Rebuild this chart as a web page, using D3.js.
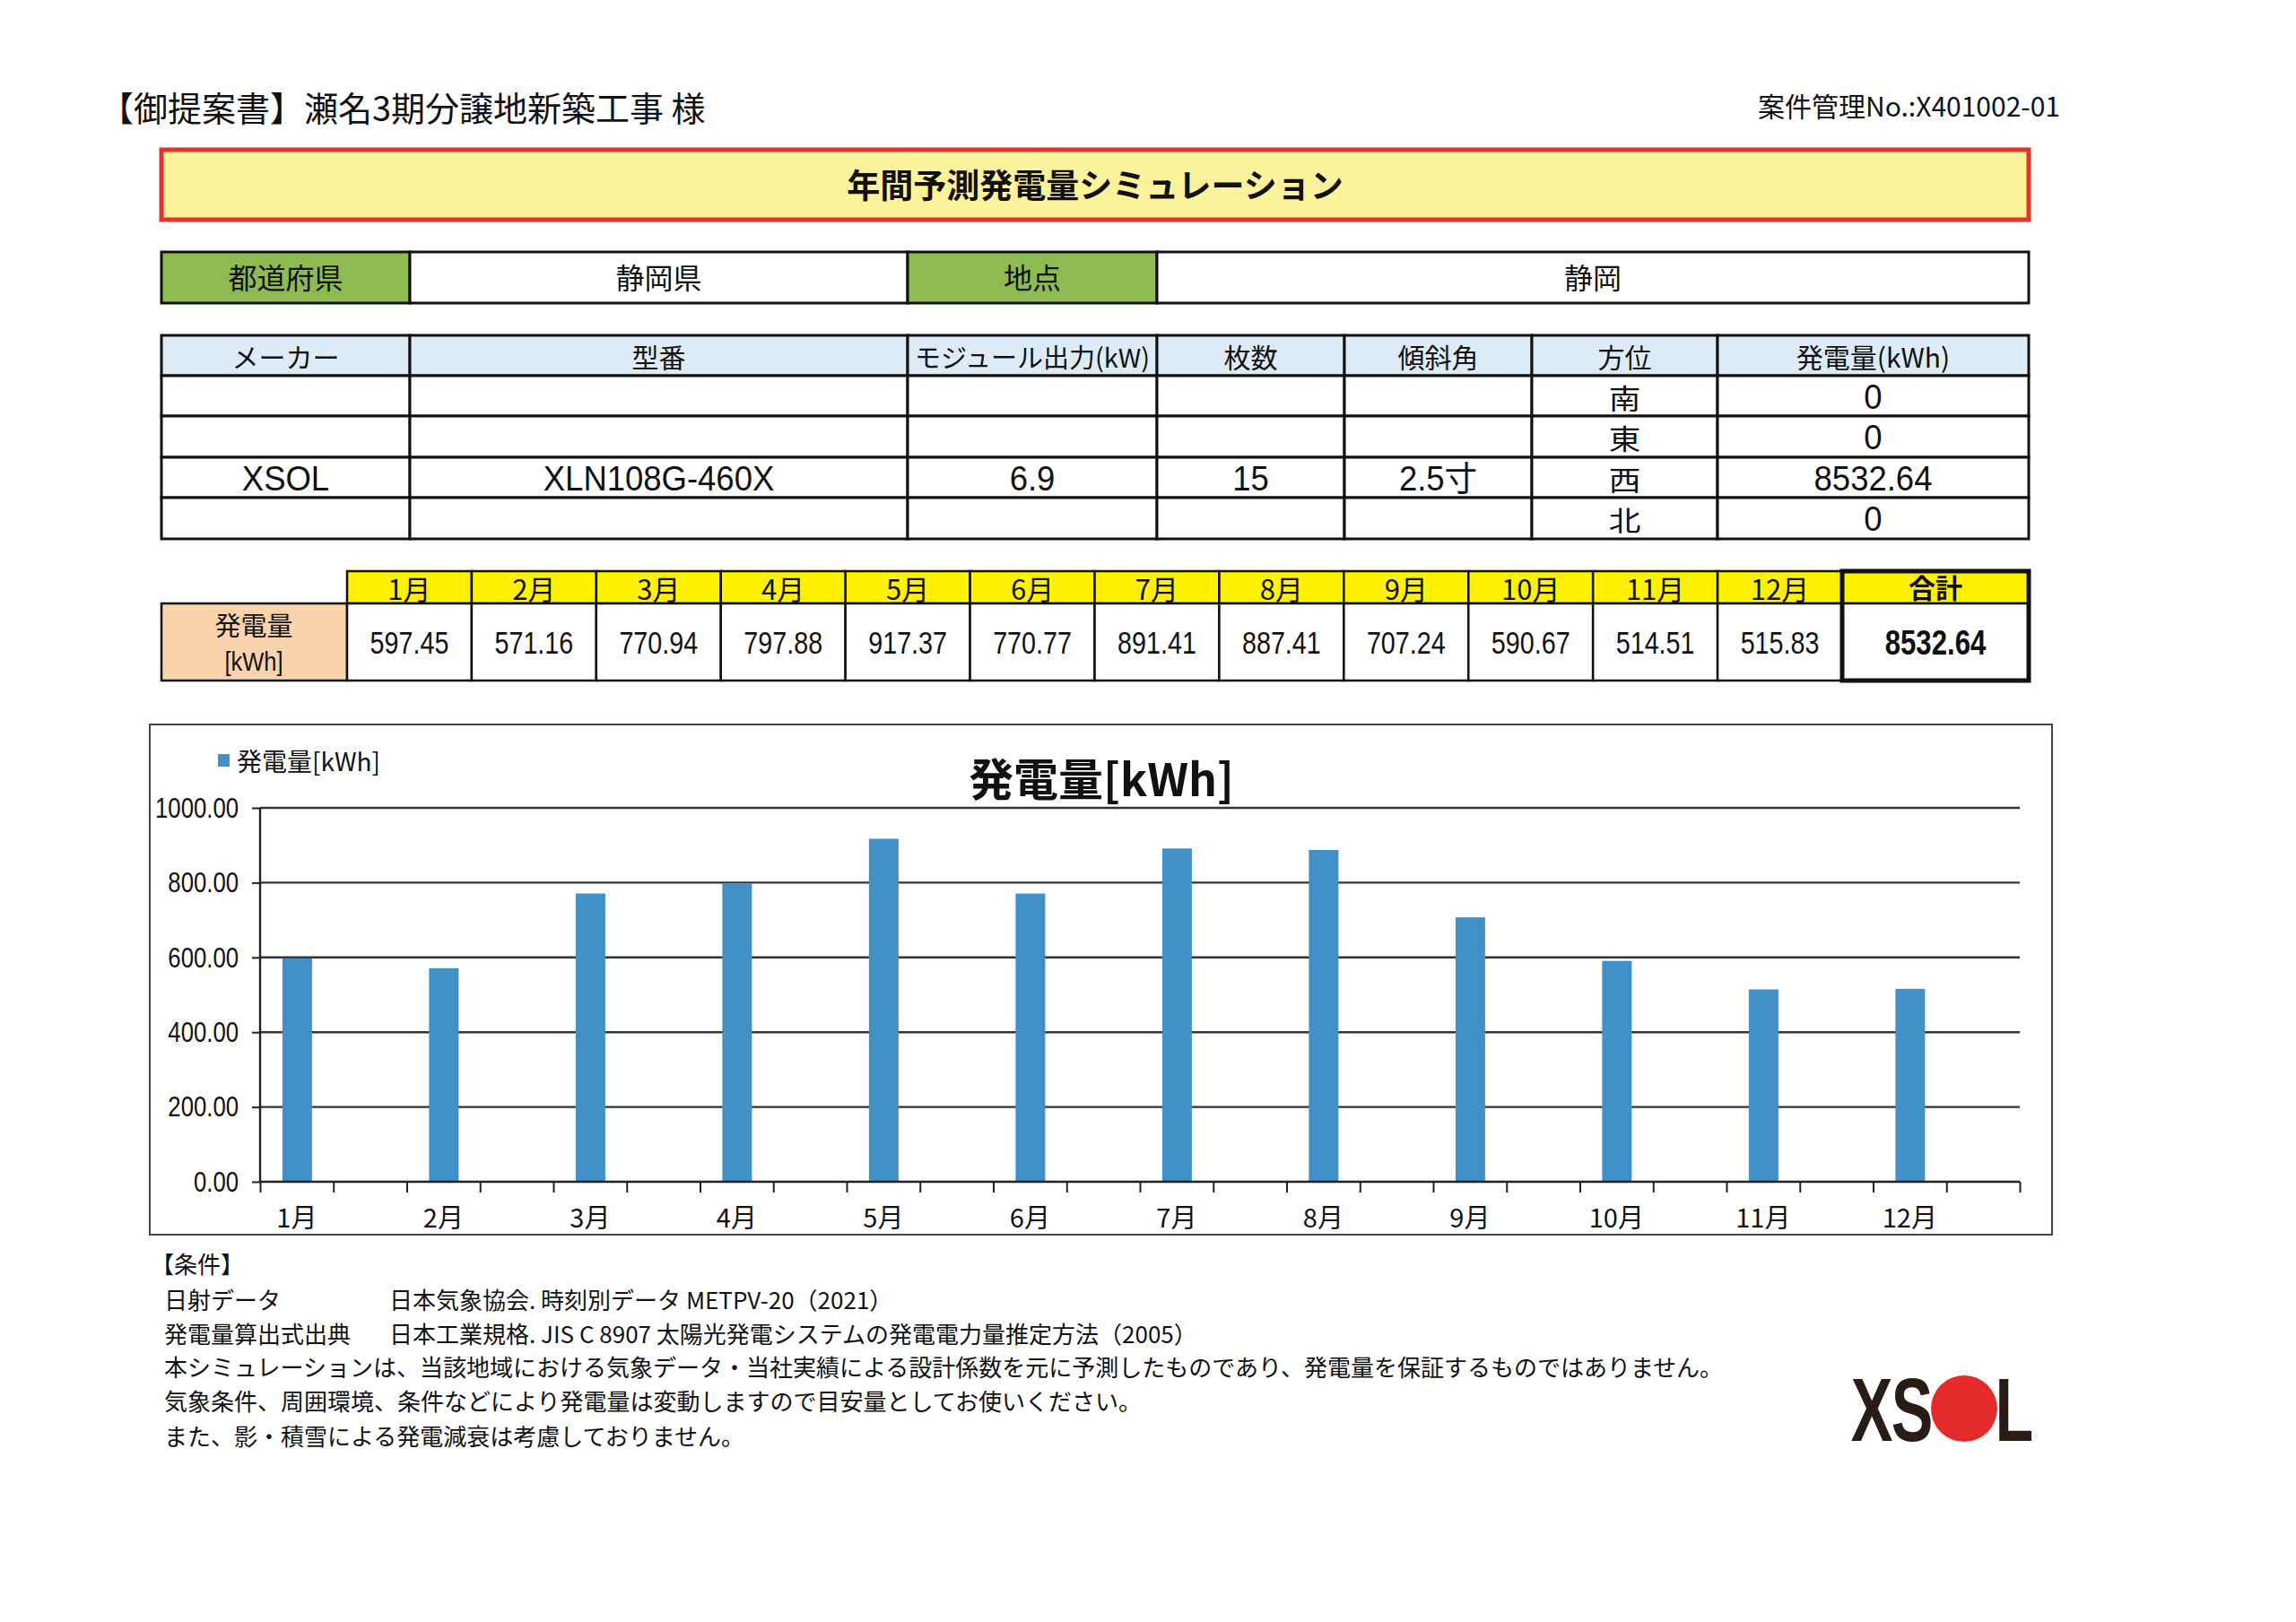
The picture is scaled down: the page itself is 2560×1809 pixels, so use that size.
<!doctype html>
<html lang="ja">
<head>
<meta charset="utf-8">
<title>年間予測発電量シミュレーション</title>
<script src="https://cdn.jsdelivr.net/npm/d3@7"></script>
<style>
  body { margin: 0; background: #fff; }
  svg { display: block; }
</style>
</head>
<body>
<div id="page"></div>
<script>
// --- data ---
var prefecture = '静岡県';
var place = '静岡';
var panelHeaders = ['メーカー', '型番', 'モジュール出力(kW)', '枚数', '傾斜角', '方位', '発電量(kWh)'];
var makers = ['', '', 'XSOL', ''];
var models = ['', '', 'XLN108G-460X', ''];
var moduleKw = ['', '', '6.9', ''];
var panelCounts = ['', '', '15', ''];
var tilts = ['', '', '2.5寸', ''];
var directions = ['南', '東', '西', '北'];
var dirOutput = [0, 0, 8532.64, 0];

var months = ['1月', '2月', '3月', '4月', '5月', '6月', '7月', '8月', '9月', '10月', '11月', '12月'];
var monthly = [597.45, 571.16, 770.94, 797.88, 917.37, 770.77, 891.41, 887.41, 707.24, 590.67, 514.51, 515.83];
var yTicks = [0, 200, 400, 600, 800, 1000];

var notes = [
  ['日射データ', '日本気象協会. 時刻別データ METPV-20（2021）'],
  ['発電量算出式出典', '日本工業規格. JIS C 8907 太陽光発電システムの発電電力量推定方法（2005）'],
  ['本シミュレーションは、当該地域における気象データ・当社実績による設計係数を元に予測したものであり、発電量を保証するものではありません。', ''],
  ['気象条件、周囲環境、条件などにより発電量は変動しますので目安量としてお使いください。', ''],
  ['また、影・積雪による発電減衰は考慮しておりません。', '']
];

var cjk = "'Noto Sans CJK JP', sans-serif";
var latin = "'Liberation Sans', Arial, 'Noto Sans CJK JP', sans-serif";
var barColor = '#4290c8';

var svg = d3.select('#page').append('svg')
  .attr('width', 2560).attr('height', 1809)
  .style('font-family', cjk);

// sx squeezes the text sideways, the scanned sheet uses narrow faces
function txt(g, x, y, s, size, font, anchor, weight, sx) {
  var t = g.append('text')
    .attr('text-anchor', anchor || 'middle')
    .attr('dominant-baseline', 'central')
    .style('font-family', font || cjk)
    .style('font-size', size + 'px')
    .style('font-weight', weight || 'normal')
    .attr('fill', '#111')
    .text(s);
  if (sx) t.attr('transform', 'translate(' + x + ',' + y + ') scale(' + sx + ',1)');
  else t.attr('x', x).attr('y', y);
  return t;
}
function box(g, x0, y0, x1, y1, fill, sw) {
  return g.append('rect')
    .attr('x', x0).attr('y', y0).attr('width', x1 - x0).attr('height', y1 - y0)
    .attr('fill', fill).attr('stroke', '#111').attr('stroke-width', sw || 2.5);
}

// header
txt(svg, 111, 118, '【御提案書】瀬名3期分譲地新築工事 様', 38, cjk, 'start');
txt(svg, 2297, 117, '案件管理No.:X401002-01', 30, cjk, 'end');

// title band
svg.append('rect').attr('x', 180).attr('y', 167).attr('width', 2082).attr('height', 78)
  .attr('fill', '#fcf29c').attr('stroke', '#e6322b').attr('stroke-width', 5);
txt(svg, 1221, 205, '年間予測発電量シミュレーション', 37, cjk, 'middle', 'bold');

// location row
var loc = svg.append('g');
var locCols = [180, 457, 1012, 1290, 2262];
var locText = ['都道府県', prefecture, '地点', place];
locText.forEach(function (s, i) {
  box(loc, locCols[i], 281, locCols[i + 1], 338, i % 2 === 0 ? '#8dbb4f' : '#fff', 3);
  txt(loc, (locCols[i] + locCols[i + 1]) / 2, 308, s, 32);
});

// panel table
var pt = svg.append('g');
var pCols = [180, 457, 1012, 1290, 1499, 1708, 1915, 2262];
var pRows = [374, 419, 464, 510, 555, 601];
panelHeaders.forEach(function (s, i) {
  box(pt, pCols[i], pRows[0], pCols[i + 1], pRows[1], '#dcebf5', 3);
  txt(pt, (pCols[i] + pCols[i + 1]) / 2, (pRows[0] + pRows[1]) / 2, s, i === 2 ? 29 : 30);
});
var panelRows = directions.map(function (d, i) {
  return [makers[i], models[i], moduleKw[i], panelCounts[i], tilts[i], d, String(dirOutput[i])];
});
panelRows.forEach(function (row, r) {
  row.forEach(function (s, c) {
    box(pt, pCols[c], pRows[r + 1], pCols[c + 1], pRows[r + 2], '#fff', 3);
    if (!s) return;
    var cy = (pRows[r + 1] + pRows[r + 2]) / 2 + 1;
    if (c === 5) txt(pt, (pCols[c] + pCols[c + 1]) / 2, cy, s, 31, cjk, 'middle', 'normal', 1.15);
    else txt(pt, (pCols[c] + pCols[c + 1]) / 2, cy, s, 38, latin, 'middle', 'normal', 0.96);
  });
});

// monthly table
var mt = svg.append('g');
var mx = d3.scaleBand().domain(months).range([387, 2054]);
var hy0 = 637, hy1 = 673, dy1 = 759;
box(mt, 180, hy1, 387, dy1, '#f9d3ac', 2.5);
txt(mt, 283, 696, '発電量', 29);
txt(mt, 283, 738, '[kWh]', 30, latin, 'middle', 'normal', 0.85);
var mcell = mt.selectAll('g.m').data(months).join('g').attr('class', 'm');
mcell.append('rect')
  .attr('x', function (d) { return mx(d); }).attr('y', hy0)
  .attr('width', mx.bandwidth()).attr('height', hy1 - hy0)
  .attr('fill', '#fff100').attr('stroke', '#111').attr('stroke-width', 2.5);
mcell.append('rect')
  .attr('x', function (d) { return mx(d); }).attr('y', hy1)
  .attr('width', mx.bandwidth()).attr('height', dy1 - hy1)
  .attr('fill', '#fff').attr('stroke', '#111').attr('stroke-width', 2.5);
mcell.append('text')
  .attr('x', function (d) { return mx(d) + mx.bandwidth() / 2; }).attr('y', 655)
  .attr('text-anchor', 'middle').attr('dominant-baseline', 'central')
  .style('font-family', cjk).style('font-size', '31px').attr('fill', '#111')
  .text(function (d) { return d; });
mcell.append('text')
  .attr('transform', function (d) { return 'translate(' + (mx(d) + mx.bandwidth() / 2) + ',717) scale(0.82,1)'; })
  .attr('text-anchor', 'middle').attr('dominant-baseline', 'central')
  .style('font-family', latin).style('font-size', '35px').attr('fill', '#111')
  .text(function (d, i) { return monthly[i].toFixed(2); });
// total
box(mt, 2054, hy0, 2262, hy1, '#fff100', 2.5);
box(mt, 2054, hy1, 2262, dy1, '#fff', 2.5);
mt.append('rect').attr('x', 2054).attr('y', hy0).attr('width', 208).attr('height', dy1 - hy0)
  .attr('fill', 'none').attr('stroke', '#111').attr('stroke-width', 5);
txt(mt, 2158, 654, '合計', 30, cjk, 'middle', 'bold');
txt(mt, 2158, 717, d3.sum(monthly).toFixed(2), 38, latin, 'middle', 'bold', 0.82);

// chart
var ch = svg.append('g');
ch.append('rect').attr('x', 167).attr('y', 808).attr('width', 2121).attr('height', 569)
  .attr('fill', '#fff').attr('stroke', '#444').attr('stroke-width', 2);
ch.append('rect').attr('x', 243).attr('y', 841).attr('width', 13).attr('height', 14).attr('fill', barColor);
txt(ch, 264, 848, '発電量[kWh]', 28, cjk, 'start');
txt(ch, 1228, 866, '発電量[kWh]', 50, cjk, 'middle', 'bold');

var slots = months.length * 2;
var x = d3.scaleLinear().domain([0, slots]).range([290, 2252]);
var y = d3.scaleLinear().domain([0, 1000]).range([1318, 901]);

ch.append('g').selectAll('line').data(yTicks.slice(1)).join('line')
  .attr('x1', x(0)).attr('x2', x(slots))
  .attr('y1', function (d) { return y(d); }).attr('y2', function (d) { return y(d); })
  .attr('stroke', '#333').attr('stroke-width', 2.4);

ch.append('g').selectAll('rect').data(monthly).join('rect')
  .attr('x', function (d, i) { return x(2 * i + 0.5) - 16; })
  .attr('width', 33)
  .attr('y', function (d) { return y(d); })
  .attr('height', function (d) { return y(0) - y(d); })
  .attr('fill', barColor);

var yAxis = ch.append('g').attr('transform', 'translate(' + x(0) + ',0)')
  .call(d3.axisLeft(y).tickValues(yTicks).tickSize(9).tickFormat(''));
var xAxis = ch.append('g').attr('transform', 'translate(0,' + y(0) + ')')
  .call(d3.axisBottom(x).tickValues(d3.range(slots + 1)).tickSize(12).tickFormat(''));
[yAxis, xAxis].forEach(function (a) {
  a.select('.domain').attr('stroke', '#222').attr('stroke-width', 2.4);
  a.selectAll('.tick line').attr('stroke', '#222').attr('stroke-width', 2);
});
xAxis.select('.domain').attr('d', 'M' + x(0) + ',0H' + x(slots));
yAxis.select('.domain').attr('d', 'M0,' + y(0) + 'V' + y(1000));

ch.append('g').selectAll('text').data(yTicks).join('text')
  .attr('transform', function (d) { return 'translate(266,' + y(d) + ') scale(0.83,1)'; })
  .attr('text-anchor', 'end').attr('dominant-baseline', 'central')
  .style('font-family', latin).style('font-size', '31px').attr('fill', '#111')
  .text(d3.format('.2f'));

ch.append('g').selectAll('text').data(months).join('text')
  .attr('x', function (d, i) { return x(2 * i + 0.5); })
  .attr('y', 1356)
  .attr('text-anchor', 'middle').attr('dominant-baseline', 'central')
  .style('font-family', cjk).style('font-size', '29px').attr('fill', '#111')
  .text(function (d) { return d; });

// notes
var nt = svg.append('g');
txt(nt, 168, 1408, '【条件】', 26, cjk, 'start');
var noteY = [1448, 1486, 1523, 1561, 1600];
notes.forEach(function (n, i) {
  txt(nt, 183, noteY[i], n[0], 26, cjk, 'start');
  if (n[1]) txt(nt, 434, noteY[i], n[1], 26, cjk, 'start');
});

// logo
var logo = svg.append('g');
[['X', 2087], ['S', 2132], ['L', 2246]].forEach(function (l) {
  logo.append('text')
    .attr('transform', 'translate(' + l[1] + ',1607) scale(0.7,1)')
    .attr('text-anchor', 'middle')
    .style('font-family', latin)
    .style('font-weight', 'bold').style('font-size', '100px')
    .attr('fill', '#2b1b16').text(l[0]);
});
logo.append('circle').attr('cx', 2190).attr('cy', 1571).attr('r', 37).attr('fill', '#e42a2a');
</script>
</body>
</html>
